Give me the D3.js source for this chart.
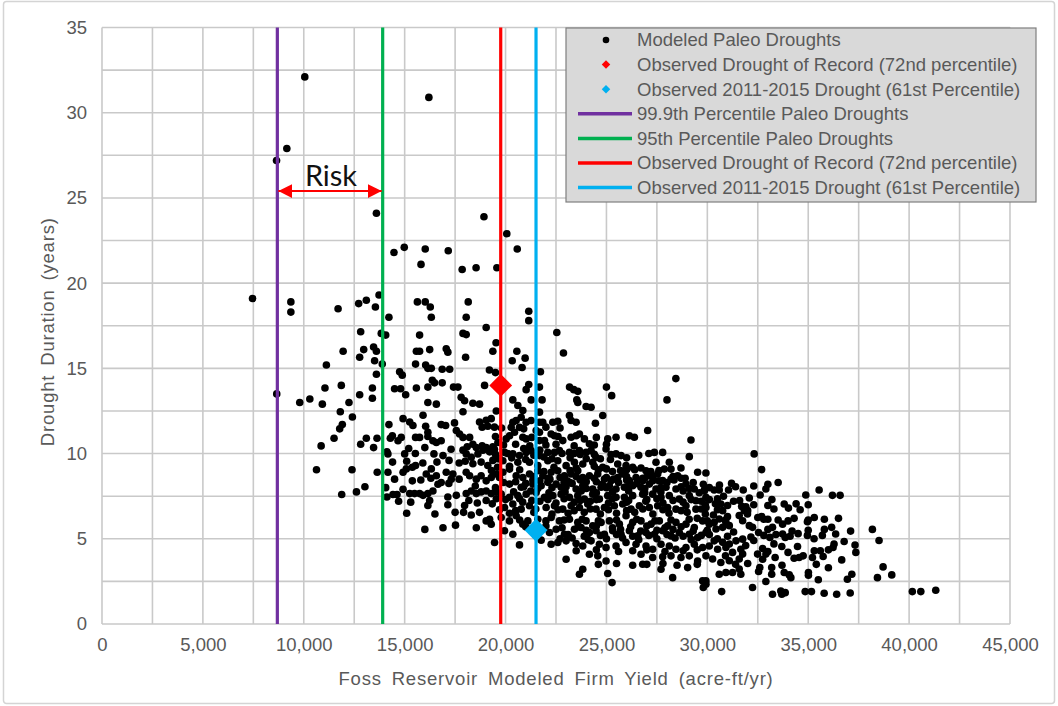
<!DOCTYPE html>
<html>
<head>
<meta charset="utf-8">
<script src="https://cdn.jsdelivr.net/npm/d3@7"></script>
<style>
  html, body { margin: 0; padding: 0; background: #fff; }
  svg { display: block; }
</style>
</head>
<body>
<svg id="chart" width="1058" height="706"></svg>
<script>
// Modeled paleo droughts: [firm yield (acre-ft/yr), duration (years)]
const paleoDroughts = [
  // sparse upper part
  [10050, 32.1], [16200, 30.9], [9160, 27.9], [8650, 27.2], [13600, 24.1], [18930, 23.9],
  [14470, 21.8], [14980, 22.1], [16020, 22.0], [17160, 21.9], [15810, 21.1], [17850, 20.8],
  [18540, 20.9], [7460, 19.1], [9360, 18.9], [9360, 18.3], [11700, 18.5], [12720, 18.8],
  [13100, 19.0], [13550, 18.6], [13730, 19.3], [15630, 18.9], [16020, 18.9], [16270, 18.6],
  [18150, 18.9], [14220, 18.0], [16320, 18.0], [18050, 18.0], [8660, 13.5],
  [20060, 22.9], [20580, 22.0], [19570, 20.9], [21150, 18.35], [21150, 17.8], [19040, 17.4],
  [22540, 17.1], [19530, 16.5], [19370, 16.0], [20560, 16.0], [20970, 15.6], [22870, 15.9],
  [20330, 15.45], [20820, 15.05], [19200, 14.9], [19500, 14.75], [21730, 14.8], [28440, 14.4],
  [18960, 14.0], [21150, 14.05], [21020, 13.75], [21680, 13.9], [23170, 13.9], [23380, 13.75],
  [23580, 13.65], [25000, 13.9], [25260, 13.4], [20360, 13.15], [21270, 13.15], [21810, 13.15],
  [23530, 13.15], [28000, 13.15], [23580, 13.0],
  // left cloud
  [12820, 17.15], [13840, 17.05], [14060, 16.95], [15740, 16.95], [17890, 17.05], [18050, 16.98],
  [11950, 16.0], [12970, 16.1], [13460, 16.25], [13600, 16.0], [15580, 16.0], [15740, 16.0],
  [16240, 16.1], [17060, 16.15], [17140, 15.95], [12770, 15.65], [13510, 15.45], [13890, 15.25],
  [11120, 15.2], [15540, 15.25], [16040, 15.2], [16150, 15.0], [16320, 15.0], [16860, 14.95],
  [17230, 14.95], [18020, 15.65], [13600, 14.65], [14750, 14.8], [14880, 14.6], [16370, 14.3],
  [16480, 14.15], [16860, 14.15], [16150, 13.9], [11050, 13.85], [11860, 14.0], [13400, 13.85],
  [14500, 13.8], [14800, 13.8], [15580, 13.85], [17420, 13.9], [17640, 13.9], [10300, 13.2],
  [9800, 13.0], [10920, 12.9], [12770, 13.45], [13400, 13.25], [15050, 13.45], [16150, 13.0],
  [16570, 12.9], [17800, 13.3], [17970, 13.1], [18380, 12.95], [18710, 12.9], [12240, 13.0],
  [11810, 12.45], [12410, 12.15], [17890, 12.45], [15910, 12.25], [19040, 11.95], [19290, 12.05],
  [19540, 12.5], [11910, 11.7], [11780, 11.45], [14920, 12.05], [15250, 11.85], [15410, 11.65],
  [14220, 11.7], [16040, 11.6], [16150, 11.25], [16810, 11.7], [17030, 11.65], [17470, 11.8],
  [17560, 11.35], [17720, 11.15], [17890, 10.95], [18220, 10.95], [18710, 11.85], [18840, 11.55],
  [19120, 11.6], [19450, 11.55], [11500, 10.9], [13100, 10.9], [13630, 10.9], [14390, 11.05],
  [14290, 10.9], [14670, 10.75], [14830, 10.95], [15540, 10.95], [15740, 10.95], [16150, 11.0],
  [16400, 10.75], [16570, 10.65], [16810, 10.75], [18380, 10.55], [18550, 10.35], [18840, 10.45],
  [19040, 10.35], [19370, 10.4], [19620, 10.65], [10860, 10.45], [12820, 10.55], [13460, 10.35],
  [14120, 10.1], [14170, 9.98], [15000, 9.98], [15530, 10.0], [16450, 9.98], [16900, 9.88],
  [17890, 10.2], [18050, 9.98], [18300, 9.78], [18630, 9.98], [18880, 10.2], [19210, 10.1],
  [19450, 10.25], [18380, 9.4], [18790, 9.5], [19120, 9.3], [19370, 9.6], [19620, 9.7],
  [10630, 9.05], [12390, 9.05], [13640, 8.9], [14170, 8.9], [14920, 8.9], [15080, 9.1],
  [15380, 9.2], [15540, 9.3], [16070, 8.8], [16320, 9.1], [16570, 8.7], [17060, 8.9],
  [17390, 8.8], [17310, 8.5], [17190, 8.25], [18050, 8.9], [18220, 8.7], [18550, 8.5],
  [18790, 8.7], [19040, 8.4], [19290, 8.6], [19540, 8.8], [15380, 8.4], [16650, 8.2],
  [16810, 8.3], [13030, 8.05], [12610, 7.75], [11880, 7.6], [14060, 8.0], [14120, 7.45],
  [14420, 7.6], [14620, 7.6], [14920, 7.9], [15250, 7.65], [15490, 7.65], [15740, 7.65],
  [15910, 7.55], [16150, 7.65], [16240, 7.25], [16150, 6.95], [16400, 7.8], [17140, 7.45],
  [17140, 7.0], [17560, 7.55], [18050, 7.65], [18180, 7.25], [17970, 6.95], [17920, 6.55],
  [18300, 7.8], [18550, 7.65], [18790, 7.75], [19040, 7.8], [19290, 7.65], [19540, 7.75],
  [19040, 7.25], [19340, 7.05], [19540, 7.35], [18710, 6.55], [19040, 6.05], [19210, 6.15],
  [19290, 5.85], [16000, 5.55], [16900, 5.65], [17520, 5.8], [18550, 5.65],
  [15200, 10.3], [16000, 10.35], [17300, 10.25], [18100, 10.4], [14400, 9.5], [15100, 9.55],
  [15900, 9.45], [16600, 9.5], [17200, 9.6], [17700, 9.45], [18000, 9.55], [14500, 8.5],
  [15800, 8.45], [16300, 8.55], [17700, 8.5], [18500, 8.1], [14700, 7.2], [15300, 7.15],
  [18600, 7.1], [15100, 6.5], [16500, 6.45], [17500, 6.55], [18300, 6.4],
  // central cloud
  [20610, 12.82], [20856, 12.53], [20774, 12.13], [20361, 11.84], [20526, 11.94], [21021, 11.84],
  [21269, 11.94], [21681, 12.43], [21681, 11.84], [21846, 11.84], [22341, 11.84], [22589, 11.9],
  [23166, 12.23], [23249, 11.94], [23496, 11.84], [23991, 12.76], [24239, 12.72], [24816, 12.23],
  [24453, 11.78], [20031, 10.86], [20279, 11.54], [20444, 11.25], [20691, 11.54], [20856, 10.96],
  [21021, 10.86], [21516, 11.35], [21681, 11.25], [21681, 10.76], [21929, 10.76], [22259, 11.15],
  [22424, 11.05], [22836, 10.76], [23249, 10.96], [23661, 11.15], [23909, 10.86], [24156, 10.57],
  [25064, 10.86], [25476, 10.96], [26136, 11.05], [26384, 10.96], [27044, 11.35], [29189, 10.8],
  [19949, 10.07], [20361, 9.98], [20691, 9.88], [21021, 10.07], [21269, 10.17], [21681, 9.88],
  [22094, 10.07], [22424, 10.07], [22671, 10.17], [23166, 10.07], [23661, 10.17], [23991, 10.07],
  [24239, 10.17], [24486, 9.78], [24981, 10.27], [25229, 9.94], [25476, 9.98], [25724, 9.88],
  [27374, 10.07], [27786, 10.07], [28116, 9.49], [29106, 9.82], [19866, 9.58], [20609, 9.49],
  [21186, 9.49], [22094, 9.58], [22589, 9.58], [23001, 9.29], [23414, 9.49], [23826, 9.39],
  [24321, 9.49], [24816, 9.19], [25559, 9.39], [25971, 9.29], [26301, 9.19], [26714, 9.15],
  [26961, 8.99], [27456, 9.49], [27869, 9.09], [28199, 9.09], [28694, 9.15],
  [19866, 8.9], [20196, 9.09], [20526, 8.7], [20856, 8.6], [21186, 8.8], [21599, 8.99],
  [21846, 8.7], [22259, 8.9], [22589, 8.99], [22919, 8.7], [23249, 8.8], [23579, 8.99],
  [23826, 8.6], [24156, 8.7], [24569, 8.8], [24899, 8.51], [25229, 8.41], [25559, 8.6],
  [25806, 8.8], [26136, 8.41], [26466, 8.6], [26796, 8.41], [27044, 8.7], [27539, 8.8],
  [27786, 8.41], [28199, 8.51], [28529, 8.7], [28941, 8.21], [29519, 8.9], [20196, 8.21],
  [20774, 8.02], [21351, 8.21], [21764, 8.11], [22094, 8.31], [22506, 8.21], [22754, 8.02],
  [23166, 8.31], [23496, 7.92], [23826, 8.11], [24321, 7.92], [24734, 8.02], [25146, 8.11],
  [25476, 7.92], [25889, 8.02], [26301, 8.11], [26714, 8.02], [27126, 8.21], [27456, 7.92],
  [27951, 8.02], [28446, 7.92], [29354, 7.92], [29849, 7.82],
  [19784, 7.62], [20196, 7.43], [20609, 7.53], [21021, 7.62], [21516, 7.72], [21929, 7.43],
  [22341, 7.53], [22754, 7.62], [23166, 7.43], [23579, 7.53], [23909, 7.33], [24321, 7.62],
  [24651, 7.33], [25064, 7.53], [25476, 7.43], [25889, 7.43], [26301, 7.53], [26796, 7.62],
  [27291, 7.62], [27704, 7.43], [28116, 7.53], [28611, 7.33], [29106, 7.53], [29436, 7.23],
  [29931, 7.43], [19949, 6.84], [20361, 7.04], [20774, 6.74], [21186, 6.94], [22011, 6.84],
  [22424, 6.94], [22836, 6.74], [23249, 6.94], [23661, 6.84], [24074, 7.04], [24486, 6.74],
  [24899, 6.84], [25394, 6.94], [25806, 7.04], [26219, 6.74], [26631, 6.94], [27126, 6.84],
  [27539, 6.94], [28034, 6.84], [28446, 6.74], [28941, 6.94], [29436, 6.74], [29931, 6.84],
  [19784, 6.25], [20196, 6.05], [20526, 6.35], [20856, 5.86], [21104, 6.05], [22259, 6.25],
  [22671, 6.05], [23166, 6.15], [23579, 5.96], [23991, 6.05], [24321, 5.76], [24734, 5.96],
  [25146, 6.05], [25641, 5.86], [25971, 6.35], [26301, 5.96], [26714, 6.05], [27209, 5.86],
  [27621, 6.05], [28034, 5.76], [28446, 5.96], [28941, 5.86], [29354, 5.66], [29766, 6.05],
  [30096, 5.86], [19949, 5.47], [20361, 5.27], [22176, 5.37], [22506, 5.56], [22919, 5.27],
  [23414, 5.56], [23744, 5.66], [24156, 5.37], [24486, 5.47], [24899, 5.27], [25311, 5.47],
  [25724, 5.27], [26136, 5.47], [26549, 5.17], [26961, 5.37], [27374, 5.27], [27786, 5.47],
  [28199, 5.17], [28611, 5.37], [29106, 5.27], [29519, 5.07], [29931, 5.37],
  [19454, 4.78], [20691, 4.64], [21764, 4.92], [22259, 4.68], [22589, 4.78], [23001, 4.88],
  [23496, 4.72], [23826, 4.58], [24239, 4.88], [24651, 4.68], [24981, 4.49], [25476, 4.58],
  [25971, 4.78], [26466, 4.68], [26961, 4.58], [27291, 4.39], [27704, 4.68], [28116, 4.58],
  [28446, 4.39], [28941, 4.49], [29354, 4.68], [29766, 4.49], [30096, 4.58], [23001, 3.8],
  [24156, 4.09], [24569, 4.0], [24981, 3.7], [26714, 4.09], [27291, 3.9], [27786, 3.94],
  [28199, 4.0], [28694, 3.9], [29106, 4.0], [29519, 3.7], [29931, 4.0], [23826, 3.21],
  [23661, 2.92], [25064, 2.96], [25278, 2.43], [26796, 3.51], [27704, 3.21], [28281, 2.72],
  [29024, 3.31], [29766, 2.53], [29931, 2.33],
  [21350, 8.45], [22200, 8.5], [23050, 8.4], [23700, 8.45], [24500, 8.35], [25350, 8.5],
  [26000, 8.45], [26900, 8.55], [27600, 8.4], [28350, 8.45],
  [20400, 7.75], [21250, 7.8], [22150, 7.7], [22950, 7.75], [23750, 7.8], [24500, 7.7],
  [25300, 7.75], [26100, 7.8], [26900, 7.7], [27700, 7.75], [28800, 7.8], [29600, 7.7],
  [20850, 7.15], [21700, 7.2], [22500, 7.1], [23400, 7.15], [24200, 7.2], [25100, 7.1],
  [26000, 7.15], [26950, 7.2], [27800, 7.1], [28800, 7.15], [29700, 7.2],
  [20200, 6.5], [21400, 6.55], [22300, 6.45], [23100, 6.5], [23900, 6.55], [24700, 6.45],
  [25500, 6.5], [26400, 6.55], [27300, 6.45], [28100, 6.5], [29000, 6.55], [29900, 6.45],
  [21000, 5.7], [22000, 5.75], [22800, 5.65], [23600, 5.7], [24500, 5.75], [25300, 5.65],
  [26200, 5.7], [27000, 5.75], [27900, 5.65], [28700, 5.7],
  [22700, 5.0], [23300, 5.05], [24100, 4.95], [25000, 5.0], [25800, 5.05], [26600, 4.95],
  [27500, 5.0], [28400, 5.05], [29200, 4.95],
  // dense core
  [19800, 11.5], [20900, 11.45], [22000, 11.55], [22700, 11.5], [19500, 11.0], [20200, 11.05],
  [21300, 10.95], [22600, 11.0], [23500, 11.05], [24500, 10.95], [19900, 10.5], [20500, 10.55],
  [21200, 10.45], [22000, 10.5], [22500, 10.55], [23400, 10.45], [24400, 10.5], [25000, 10.55],
  [20100, 10.0], [20900, 10.3], [21700, 10.2], [22800, 10.0], [23700, 9.95], [24700, 9.7],
  [19700, 9.7], [20300, 9.75], [21000, 9.65], [21900, 9.8], [22300, 9.7], [23200, 9.75],
  [24000, 9.7], [25200, 9.65], [26000, 9.75], [19600, 9.2], [20200, 9.25], [21600, 9.3],
  [22400, 9.2], [23500, 9.15], [24400, 9.25], [25000, 9.1], [26000, 9.05],
  [19900, 8.3], [20500, 8.35], [21000, 8.25], [21700, 8.4], [22900, 8.3], [23300, 8.25],
  [24000, 8.35], [24800, 8.2], [25600, 8.3], [26500, 8.25], [27300, 8.4], [28000, 8.3],
  [28900, 8.55], [29300, 8.3],
  [29800, 8.2], [30600, 8.15], [31200, 8.25], [32300, 8.1], [33000, 8.2],
  [29900, 7.0], [30400, 7.05], [31000, 6.95], [32300, 7.0], [33000, 6.95], [34400, 7.05], [35000, 7.0],
  [29500, 6.2], [32500, 6.25], [33000, 6.15], [34300, 6.2], [35300, 6.25], [35800, 6.15], [36500, 6.2],
  [24000, 5.5], [25700, 5.55], [26700, 5.45], [27500, 5.5], [28300, 5.55], [29300, 5.45],
  [30000, 5.5], [33000, 5.55], [34200, 5.45], [35000, 5.5], [35800, 5.55], [37100, 5.45],
  [23500, 4.3], [24500, 4.35], [25600, 4.25], [26300, 4.3], [27000, 4.35], [27900, 4.25],
  [28800, 4.3], [29500, 4.35], [33000, 4.25], [35300, 4.3], [36000, 4.35],
  [24600, 3.5], [25500, 3.55], [26300, 3.45], [27000, 3.5], [27800, 3.55], [28500, 3.45],
  [29500, 3.5], [32000, 3.55], [33700, 3.45], [35400, 3.5],
  [19500, 9.95], [21400, 9.9], [23400, 10.0], [24400, 9.95], [26600, 9.9], [27100, 10.0],
  [19300, 9.0], [20700, 9.05], [21900, 8.95], [23200, 9.0], [24600, 9.05], [25300, 8.95],
  [25700, 9.0], [26400, 9.05], [27200, 8.95], [27600, 9.0],
  [19700, 8.6], [21400, 8.65], [22100, 8.55], [22700, 8.6], [23500, 8.65], [24400, 8.55],
  [25000, 8.6], [26000, 8.65], [26800, 8.55], [27300, 8.6], [28300, 8.65], [28700, 8.55],
  [19500, 8.0], [20900, 8.05], [21600, 7.95], [22300, 8.0], [23000, 8.05], [24000, 7.95],
  [25000, 8.0], [26000, 8.05], [26900, 7.95], [27700, 8.0], [28700, 8.05], [29100, 7.95],
  [30100, 8.0], [31400, 8.05],
  [20000, 7.3], [20700, 7.35], [21300, 7.25], [22100, 7.3], [22900, 7.35], [23700, 7.25],
  [24500, 7.3], [25300, 7.35], [26100, 7.25], [27000, 7.3], [27500, 7.35], [28300, 7.25],
  [29200, 7.3], [30500, 7.35], [31600, 7.25], [33200, 7.3],
  [19700, 6.7], [20500, 6.65], [21500, 6.75], [22600, 6.7], [23400, 6.65], [24200, 6.75],
  [25100, 6.7], [26000, 6.65], [26800, 6.75], [27800, 6.7], [28700, 6.65], [29700, 6.75],
  [30500, 6.7], [32000, 6.65], [33300, 6.75], [34600, 6.7],
  [20700, 6.1], [21600, 6.15], [22000, 6.05], [22900, 6.1], [23800, 6.15], [24600, 6.05],
  [25500, 6.1], [26500, 6.15], [27400, 6.05], [28200, 6.1], [29100, 6.15], [30000, 6.05],
  [30900, 6.1], [32800, 6.15], [34000, 6.05], [35000, 6.1],
  [21500, 5.2], [23100, 5.25], [23900, 5.15], [24700, 5.2], [25500, 5.25], [26300, 5.15],
  [27100, 5.2], [28000, 5.25], [28800, 5.15], [29700, 5.2], [30100, 5.25], [31000, 5.15],
  [32800, 5.2], [33400, 5.25], [34100, 5.15], [35700, 5.2],
  // right tail
  [32320, 9.98], [32690, 9.06], [33510, 8.3], [29930, 8.86], [29850, 7.86], [30340, 7.86],
  [30590, 7.86], [31050, 7.86], [31780, 7.86], [32620, 7.57], [32080, 7.39], [32900, 7.92],
  [34880, 7.57], [35540, 7.86], [36200, 7.55], [36580, 7.55], [38180, 5.55], [38510, 4.9],
  [33810, 7.04], [34020, 6.8], [32690, 6.3], [31910, 6.88], [31990, 6.45], [33510, 6.1],
  [33730, 5.86], [33230, 5.67], [34960, 6.0], [36160, 5.67], [36360, 5.28], [34960, 5.2],
  [35290, 5.0], [33730, 5.28], [33860, 5.08], [33100, 5.08], [32540, 5.37], [32160, 5.1],
  [34470, 4.55], [36780, 4.84], [37320, 4.63], [37360, 4.2], [36280, 4.69], [36230, 4.49],
  [33690, 4.55], [32740, 4.43], [33360, 3.9], [34300, 3.86], [34550, 3.9], [34750, 4.0],
  [35210, 3.9], [35740, 3.96], [36660, 3.76], [32490, 4.1], [32740, 3.8], [32600, 3.31],
  [32540, 3.08], [33190, 3.31], [33190, 2.92], [33810, 3.02], [34060, 2.88], [34140, 2.72],
  [35010, 3.02], [35010, 2.86], [37160, 2.92], [36940, 2.63], [32900, 2.49], [32240, 2.14],
  [30710, 1.9], [33230, 1.75], [33640, 1.94], [33860, 1.84], [33690, 1.75], [34850, 1.9],
  [35160, 1.9], [35790, 1.8], [36410, 1.75], [37080, 1.82], [38430, 2.72], [29930, 2.53],
  [29800, 2.14], [30760, 6.65], [30670, 7.04], [30340, 5.96], [30590, 6.16], [30920, 5.96],
  [31090, 5.77], [30430, 5.57], [30760, 5.67], [30340, 4.88], [30760, 4.79], [31090, 4.69],
  [31420, 4.88], [31750, 4.98], [30510, 4.39], [30920, 4.49], [31250, 4.2], [31660, 4.39],
  [30260, 3.81], [30670, 3.61], [31090, 3.71], [31580, 3.81], [31750, 4.1], [30590, 2.92],
  [30920, 3.02], [31250, 3.02], [31580, 3.22], [31660, 2.92], [31750, 6.06], [32080, 5.77],
  [32240, 5.67], [31580, 6.36], [31830, 6.65],
  [30100, 7.3], [30800, 7.5], [31300, 7.2], [31700, 6.9], [30300, 6.4], [31000, 6.3],
  [31300, 5.4], [30500, 5.0], [31900, 4.6], [30900, 4.0], [31400, 3.5], [32300, 4.9],
  [32900, 4.1], [33300, 4.7], [34000, 4.2], [34500, 5.3], [35600, 4.3], [36000, 3.3], [35500, 2.6],
  [40160, 1.9], [40580, 1.9], [41320, 1.98], [38710, 3.35], [39140, 2.88]
];

// Observed droughts (diamonds)
const observedNames = ["Observed Drought of Record (72nd percentile)", "Observed 2011-2015 Drought (61st Percentile)"];
const observedYield = [19760, 21510];
const observedDuration = [14.0, 5.5];

// Vertical reference lines
const lineNames = [
  "99.9th Percentile Paleo Droughts",
  "95th Percentile Paleo Droughts",
  "Observed Drought of Record (72nd percentile)",
  "Observed 2011-2015 Drought (61st Percentile)"
];
const lineYields = [8690, 13910, 19760, 21510];

// Risk annotation sits between the 99.9th and 95th lines
const riskLabel = "Risk";
const riskDuration = 25.4;

const yieldTicks = [0, 5000, 10000, 15000, 20000, 25000, 30000, 35000, 40000, 45000];
const durationTicks = [0, 5, 10, 15, 20, 25, 30, 35];

// styles
const lineColors = ["#7030a0", "#00b050", "#ff0000", "#00b0f0"];
const observedColors = ["#ff0000", "#00b0f0"];
const textColor = "#595959";
const gridColor = "#c9c9c9";
const font = "'Liberation Sans', Arial, sans-serif";

const svg = d3.select("#chart");
const margin = { top: 27.5, right: 48, bottom: 82, left: 102 };
const W = 1058, H = 706;

const x = d3.scaleLinear().domain([0, 45000]).range([margin.left, W - margin.right]);
const y = d3.scaleLinear().domain([0, 35]).range([H - margin.bottom, margin.top]);

// chart border
svg.append("rect")
  .attr("x", 3.5).attr("y", 1.5)
  .attr("width", W - 7).attr("height", H - 4)
  .attr("rx", 3)
  .attr("fill", "#fff")
  .attr("stroke", "#d4d4d4")
  .attr("stroke-width", 1.5);

// grid (every 2,500 acre-ft and 2.5 years)
const grid = svg.append("g").attr("class", "grid");
grid.selectAll("line.v")
  .data(d3.range(0, 45001, 2500))
  .join("line")
  .attr("class", "v")
  .attr("x1", (d) => x(d)).attr("x2", (d) => x(d))
  .attr("y1", y(0)).attr("y2", y(35))
  .attr("stroke", gridColor)
  .attr("stroke-width", 1.6);
grid.selectAll("line.h")
  .data(d3.range(0, 35.01, 2.5))
  .join("line")
  .attr("class", "h")
  .attr("x1", x(0)).attr("x2", x(45000))
  .attr("y1", (d) => y(d)).attr("y2", (d) => y(d))
  .attr("stroke", gridColor)
  .attr("stroke-width", 1.6);

// X axis
svg.append("g")
  .attr("transform", `translate(0, ${y(0)})`)
  .call(d3.axisBottom(x).tickValues(yieldTicks).tickSize(0).tickPadding(14).tickFormat(d3.format(",")))
  .call((g) => g.select(".domain").remove())
  .selectAll("text")
  .style("font-family", font)
  .style("font-size", "18.5px")
  .attr("fill", textColor);

// Y axis
svg.append("g")
  .attr("transform", `translate(${x(0)}, 0)`)
  .call(d3.axisLeft(y).tickValues(durationTicks).tickSize(0).tickPadding(15))
  .call((g) => g.select(".domain").remove())
  .selectAll("text")
  .style("font-family", font)
  .style("font-size", "18.5px")
  .attr("fill", textColor);

// axis titles
svg.append("text")
  .attr("x", (x(0) + x(45000)) / 2)
  .attr("y", 685)
  .attr("text-anchor", "middle")
  .style("font-family", font)
  .style("font-size", "18.5px")
  .style("word-spacing", "4px")
  .style("letter-spacing", "0.8px")
  .attr("fill", textColor)
  .text("Foss Reservoir Modeled Firm Yield (acre-ft/yr)");

svg.append("text")
  .attr("transform", `translate(47, ${(y(0) + y(35)) / 2 + 6}) rotate(-90)`)
  .attr("text-anchor", "middle")
  .attr("dominant-baseline", "central")
  .style("font-family", font)
  .style("font-size", "18.5px")
  .style("word-spacing", "3px")
  .style("letter-spacing", "0.8px")
  .attr("fill", textColor)
  .text("Drought Duration (years)");

// paleo drought points
svg.append("g")
  .attr("class", "paleo")
  .selectAll("circle")
  .data(paleoDroughts)
  .join("circle")
  .attr("cx", (d) => x(d[0]))
  .attr("cy", (d) => y(d[1]))
  .attr("r", 3.8)
  .attr("fill", "#000");

// vertical percentile lines
svg.append("g")
  .attr("class", "ref-lines")
  .selectAll("line")
  .data(lineYields)
  .join("line")
  .attr("x1", (d) => x(d)).attr("x2", (d) => x(d))
  .attr("y1", y(0)).attr("y2", y(35))
  .attr("stroke", (d, i) => lineColors[i])
  .attr("stroke-width", 3.2);

// observed drought diamonds
const diamond = d3.symbol().type(d3.symbolSquare).size(260);
svg.append("g")
  .attr("class", "observed")
  .selectAll("path")
  .data(observedYield)
  .join("path")
  .attr("d", diamond)
  .attr("transform", (d, i) => `translate(${x(d)}, ${y(observedDuration[i])}) rotate(45)`)
  .attr("fill", (d, i) => observedColors[i]);

// Risk arrow between the 99.9th and 95th percentile lines
const defs = svg.append("defs");
["start", "end"].forEach((k) => {
  defs.append("marker")
    .attr("id", "arrow-" + k)
    .attr("viewBox", "0 0 10 10")
    .attr("refX", k === "end" ? 10 : 0)
    .attr("refY", 5)
    .attr("markerWidth", 7)
    .attr("markerHeight", 7)
    .attr("markerUnits", "strokeWidth")
    .attr("orient", "auto")
    .append("path")
    .attr("d", k === "end" ? "M0,0L10,5L0,10z" : "M10,0L0,5L10,10z")
    .attr("fill", "#ff0000");
});
svg.append("line")
  .attr("x1", x(lineYields[0]) + 1).attr("x2", x(lineYields[1]) - 1)
  .attr("y1", y(riskDuration)).attr("y2", y(riskDuration))
  .attr("stroke", "#ff0000")
  .attr("stroke-width", 2)
  .attr("marker-start", "url(#arrow-start)")
  .attr("marker-end", "url(#arrow-end)");
svg.append("text")
  .attr("x", (x(lineYields[0]) + x(lineYields[1])) / 2 + 1)
  .attr("y", y(riskDuration) - 5)
  .attr("text-anchor", "middle")
  .style("font-family", "Lato, 'Open Sans', sans-serif")
  .style("font-size", "29px")
  .attr("fill", "#111")
  .text(riskLabel);

// legend
const legend = svg.append("g").attr("transform", "translate(566, 28)");
legend.append("rect")
  .attr("width", 470).attr("height", 174)
  .attr("fill", "#d9d9d9")
  .attr("stroke", "#7f7f7f")
  .attr("stroke-width", 1.2);

const legendItems = [{ name: "Modeled Paleo Droughts", kind: "dot", color: "#000" }]
  .concat(observedNames.map((n, i) => ({ name: n, kind: "diamond", color: observedColors[i] })))
  .concat(lineNames.map((n, i) => ({ name: n, kind: "line", color: lineColors[i] })));

const row = legend.selectAll("g.item")
  .data(legendItems)
  .join("g")
  .attr("class", "item")
  .attr("transform", (d, i) => `translate(0, ${12 + i * 24.6})`);

row.filter((d) => d.kind === "dot")
  .append("circle")
  .attr("cx", 40).attr("r", 3.3)
  .attr("fill", (d) => d.color);
row.filter((d) => d.kind === "diamond")
  .append("path")
  .attr("d", d3.symbol().type(d3.symbolSquare).size(36))
  .attr("transform", "translate(40, 0) rotate(45)")
  .attr("fill", (d) => d.color);
row.filter((d) => d.kind === "line")
  .append("line")
  .attr("x1", 12).attr("x2", 66)
  .attr("stroke", (d) => d.color)
  .attr("stroke-width", 3.5);
row.append("text")
  .attr("x", 71)
  .attr("dy", "0.35em")
  .style("font-family", font)
  .style("font-size", "18.5px")
  .attr("fill", textColor)
  .text((d) => d.name);
</script>
</body>
</html>
